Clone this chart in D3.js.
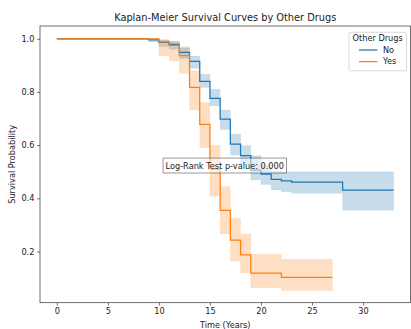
<!DOCTYPE html>
<html>
<head>
<meta charset="utf-8">
<script src="https://cdn.jsdelivr.net/npm/d3@7"></script>
<style>
  html, body { margin: 0; padding: 0; background: #fff; }
  svg { display: block; font-family: "DejaVu Sans", sans-serif; }
</style>
</head>
<body>
<svg id="chart" width="411" height="329"></svg>
<script>
// Kaplan-Meier estimates (step-post) with 95% confidence bands
const timesNo = [0, 9, 10, 11, 12, 13, 14, 15, 16, 17, 18, 19, 20, 21, 22, 23, 28, 33];
const survNo  = [1.0, 0.996, 0.986, 0.979, 0.949, 0.915, 0.840, 0.776, 0.698, 0.604, 0.561, 0.506, 0.491, 0.471, 0.466, 0.461, 0.431, 0.431];
const loNo    = [1.0, 0.988, 0.970, 0.961, 0.926, 0.889, 0.817, 0.748, 0.659, 0.563, 0.527, 0.469, 0.452, 0.431, 0.425, 0.419, 0.355, 0.355];
const hiNo    = [1.0, 1.0, 0.995, 0.990, 0.966, 0.935, 0.867, 0.810, 0.732, 0.641, 0.599, 0.560, 0.527, 0.503, 0.500, 0.500, 0.500, 0.500];

const timesYes = [0, 10, 11, 12, 13, 14, 15, 16, 17, 18, 19, 22, 27];
const survYes  = [1.0, 0.988, 0.975, 0.937, 0.817, 0.678, 0.510, 0.355, 0.243, 0.187, 0.119, 0.103, 0.103];
const loYes    = [1.0, 0.935, 0.916, 0.870, 0.732, 0.590, 0.408, 0.266, 0.164, 0.120, 0.064, 0.053, 0.053];
const hiYes    = [1.0, 0.997, 0.992, 0.970, 0.880, 0.760, 0.600, 0.444, 0.325, 0.266, 0.190, 0.171, 0.171];

const groupNames = ["No", "Yes"];
const groupColors = ["#1f77b4", "#ff7f0e"];
const xTicks = [0, 5, 10, 15, 20, 25, 30];
const yTicks = [0.2, 0.4, 0.6, 0.8, 1.0];
const pValueText = "Log-Rank Test p-value: 0.000";

const groups = [
  { name: groupNames[0], color: groupColors[0], t: timesNo, s: survNo, lo: loNo, hi: hiNo },
  { name: groupNames[1], color: groupColors[1], t: timesYes, s: survYes, lo: loYes, hi: hiYes }
];

const svg = d3.select("#chart");
const plotL = 40, plotR = 410.5, plotT = 26, plotB = 302.7;
const fs = 8.2;

const x = d3.scaleLinear().domain([-1.65, 34.65]).range([plotL, plotR]);
const y = d3.scaleLinear().domain([0.0075, 1.048]).range([plotB, plotT]);

// confidence bands
const area = d3.area()
  .curve(d3.curveStepAfter)
  .x(d => x(d.t)).y0(d => y(d.lo)).y1(d => y(d.hi));
const line = d3.line()
  .curve(d3.curveStepAfter)
  .x(d => x(d.t)).y(d => y(d.s));

groups.forEach(g => {
  const rows = g.t.map((t, i) => ({ t, s: g.s[i], lo: g.lo[i], hi: g.hi[i] }));
  g.rows = rows;
  svg.append("path").attr("d", area(rows))
    .attr("fill", g.color).attr("fill-opacity", 0.25)
    .attr("stroke", g.color).attr("stroke-opacity", 0.08).attr("stroke-width", 0.8);
});
groups.forEach(g => {
  svg.append("path").attr("d", line(g.rows))
    .attr("fill", "none").attr("stroke", g.color).attr("stroke-width", 1.25);
});

// axes
const xAxis = d3.axisBottom(x).tickValues(xTicks).tickFormat(d3.format("d")).tickSize(2.8).tickPadding(2.8);
const yAxis = d3.axisLeft(y).tickValues(yTicks).tickFormat(d3.format(".1f")).tickSize(2.8).tickPadding(2.8);

const gx = svg.append("g").attr("transform", `translate(0,${plotB})`).call(xAxis);
const gy = svg.append("g").attr("transform", `translate(${plotL},0)`).call(yAxis);
[gx, gy].forEach(g => {
  g.select(".domain").remove();
  g.selectAll(".tick line").attr("stroke", "#222").attr("stroke-width", 0.65);
  g.selectAll(".tick text").attr("fill", "#222").attr("font-size", fs).attr("font-family", "DejaVu Sans");
});

// frame
svg.append("rect").attr("x", plotL).attr("y", plotT)
  .attr("width", plotR - plotL).attr("height", plotB - plotT)
  .attr("fill", "none").attr("stroke", "#333").attr("stroke-width", 0.7);

// titles
svg.append("text").attr("x", (plotL + plotR) / 2).attr("y", 20.5)
  .attr("text-anchor", "middle").attr("font-size", 9.8).attr("fill", "#222")
  .text("Kaplan-Meier Survival Curves by Other Drugs");
svg.append("text").attr("x", (plotL + plotR) / 2).attr("y", 327.5)
  .attr("text-anchor", "middle").attr("font-size", fs).attr("fill", "#222")
  .text("Time (Years)");
svg.append("text").attr("transform", `translate(14.5,${(plotT + plotB) / 2}) rotate(-90)`)
  .attr("text-anchor", "middle").attr("font-size", fs).attr("fill", "#222")
  .text("Survival Probability");

// log-rank annotation
const ann = svg.append("g").attr("transform", `translate(${x(10.65)},${y(0.512)})`);
const annText = ann.append("text").attr("font-size", fs).attr("fill", "#222").text(pValueText);
const bb = annText.node().getBBox();
const pad = 0.3 * fs;
ann.insert("rect", "text")
  .attr("x", bb.x - pad).attr("y", bb.y - pad)
  .attr("width", bb.width + 2 * pad).attr("height", bb.height + 2 * pad)
  .attr("fill", "#fff").attr("fill-opacity", 0.5)
  .attr("stroke", "#000").attr("stroke-opacity", 0.5).attr("stroke-width", 0.8);

// legend
const lg = svg.append("g").attr("transform", "translate(349,32.3)");
lg.append("rect").attr("width", 57.5).attr("height", 38.5).attr("rx", 2)
  .attr("fill", "#fff").attr("fill-opacity", 0.8).attr("stroke", "#d0d0d0").attr("stroke-width", 0.8);
lg.append("text").attr("x", 28.7).attr("y", 8.7).attr("text-anchor", "middle")
  .attr("font-size", fs).attr("fill", "#222").text("Other Drugs");
groups.forEach((g, i) => {
  const yy = 17.7 + i * 11.6;
  lg.append("line").attr("x1", 10).attr("x2", 28.5).attr("y1", yy).attr("y2", yy)
    .attr("stroke", g.color).attr("stroke-width", 1.25);
  lg.append("text").attr("x", 34).attr("y", yy + 2.9)
    .attr("font-size", fs).attr("fill", "#222").text(g.name);
});
</script>
</body>
</html>
